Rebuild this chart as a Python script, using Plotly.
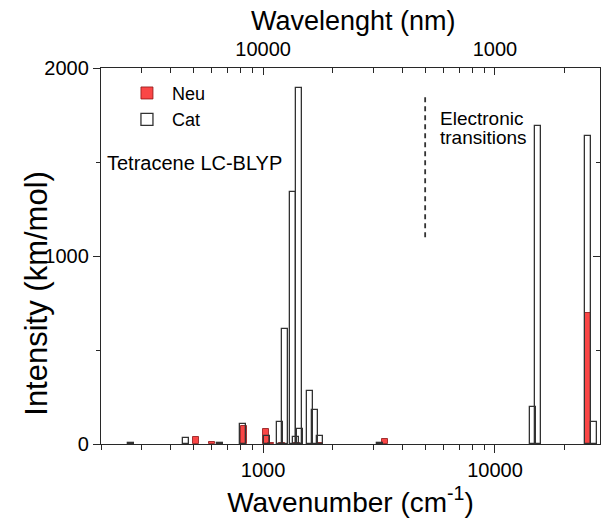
import plotly.graph_objects as go
import numpy as np

# Cation (white bars)
cat_nu = [270, 466, 653, 820, 1040, 1184, 1238, 1346, 1387, 1429, 1443, 1586, 1667, 1754, 3206,
          14520, 15310, 25290, 26720]
cat_int = [3, 32, 3, 104, 45, 115, 612, 1340, 35, 1895, 80, 280, 180, 40, 3,
           197, 1691, 1638, 117]
# Neutral (red bars)
neu_nu = [514, 600, 824, 1025, 1082, 1207, 1402, 1762, 3342, 25290]
neu_int = [37, 10, 96, 80, 4, 3, 5, 3, 27, 697]

# dashed separator
sep_x = [5000, 5000]
sep_y = [1100, 1850]

x_ticks = [1000, 10000]
x_ticklabels = ["1000", "10000"]
top_ticklabels = ["10000", "1000"]
x_minor = [200, 300, 400, 500, 600, 700, 800, 900,
           2000, 3000, 4000, 5000, 6000, 7000, 8000, 9000, 20000]
y_ticks = [0, 1000, 2000]
y_minor = [500, 1500]

FONT = "Arial, Liberation Sans, sans-serif"
AX = "rgb(40,40,40)"
K = 10 ** 0.0129  # half bar width in log decades


def bar_geom(nu):
    nu = np.asarray(nu, dtype=float)
    return nu * (K + 1 / K) / 2, nu * (K - 1 / K)


cx, cw = bar_geom(cat_nu)
nx, nw = bar_geom(neu_nu)

fig = go.Figure()
fig.add_trace(go.Bar(x=nx, y=neu_int, width=nw, name="Neu",
                     marker=dict(color="rgba(250,60,60,0.95)",
                                 line=dict(color="rgba(140,20,20,0.8)", width=1))))
fig.add_trace(go.Bar(x=cx, y=cat_int, width=cw, name="Cat",
                     marker=dict(color="rgba(255,255,255,0)",
                                 line=dict(color="rgb(50,50,50)", width=1.3))))
fig.add_trace(go.Scatter(x=sep_x, y=sep_y, mode="lines", showlegend=False,
                         line=dict(color="rgb(50,50,50)", width=1.8, dash="5px,4px")))
fig.add_trace(go.Scatter(x=[1000], y=[0], xaxis="x2", yaxis="y2", mode="markers",
                         marker=dict(opacity=0), showlegend=False, hoverinfo="skip"))

xr = [np.log10(200), 4.453]
tick_common = dict(tickwidth=1.3, tickcolor=AX, showline=True, linecolor=AX,
                   linewidth=1.3, showgrid=False, zeroline=False)
fig.update_layout(
    width=601, height=522,
    margin=dict(l=101, r=1, t=68, b=78),
    paper_bgcolor="white", plot_bgcolor="white",
    barmode="overlay", bargap=0,
    font=dict(family=FONT, color="black", size=20),
    xaxis=dict(type="log", range=xr, tickvals=x_ticks, ticktext=x_ticklabels,
               ticks="outside", ticklen=8, **tick_common,
               minor=dict(tickvals=x_minor, ticks="outside", ticklen=5,
                          tickwidth=1.2, tickcolor=AX, showgrid=False),
               title=dict(text="Wavenumber (cm<sup>-1</sup>)", font=dict(size=28), standoff=12),
               tickfont=dict(size=20)),
    xaxis2=dict(type="log", range=xr, overlaying="x", side="top", anchor="y",
                tickvals=x_ticks, ticktext=top_ticklabels,
                ticks="inside", ticklen=7, **tick_common,
                minor=dict(tickvals=x_minor, ticks="inside", ticklen=5,
                           tickwidth=1.2, tickcolor=AX, showgrid=False),
                tickfont=dict(size=20), ticklabelstandoff=3),
    yaxis=dict(range=[0, 2000], tickvals=y_ticks,
               ticks="outside", ticklen=7, **tick_common,
               minor=dict(tickvals=y_minor, ticks="outside", ticklen=4,
                          tickwidth=1.2, tickcolor=AX, showgrid=False),
               tickfont=dict(size=20)),
    yaxis2=dict(range=[0, 2000], overlaying="y", side="right", anchor="x",
                tickvals=y_ticks, showticklabels=False,
                ticks="inside", ticklen=7, **tick_common,
                minor=dict(tickvals=y_minor, ticks="inside", ticklen=4,
                           tickwidth=1.2, tickcolor=AX, showgrid=False)),
    legend=dict(x=0.042, y=0.982, xanchor="left", yanchor="top",
                bgcolor="rgba(0,0,0,0)", font=dict(size=18),
                tracegroupgap=0, itemwidth=40),
    annotations=[
        dict(text="Wavelenght (nm)", xref="paper", yref="paper",
             x=0.507, y=1.124, xanchor="center", yanchor="middle",
             showarrow=False, font=dict(size=27)),
        dict(text="Intensity (km/mol)", xref="paper", yref="paper",
             x=-0.13, y=0.40, xanchor="center", yanchor="middle", textangle=-90,
             showarrow=False, font=dict(size=31)),
        dict(text="Tetracene LC-BLYP", xref="paper", yref="paper",
             x=0.008, y=0.747, xanchor="left", yanchor="middle",
             showarrow=False, font=dict(size=20)),
        dict(text="Electronic", xref="paper", yref="paper",
             x=0.676, y=0.866, xanchor="left", yanchor="middle",
             showarrow=False, font=dict(size=19)),
        dict(text="transitions", xref="paper", yref="paper",
             x=0.676, y=0.815, xanchor="left", yanchor="middle",
             showarrow=False, font=dict(size=19)),
    ],
)

fig.write_html("out.html")
